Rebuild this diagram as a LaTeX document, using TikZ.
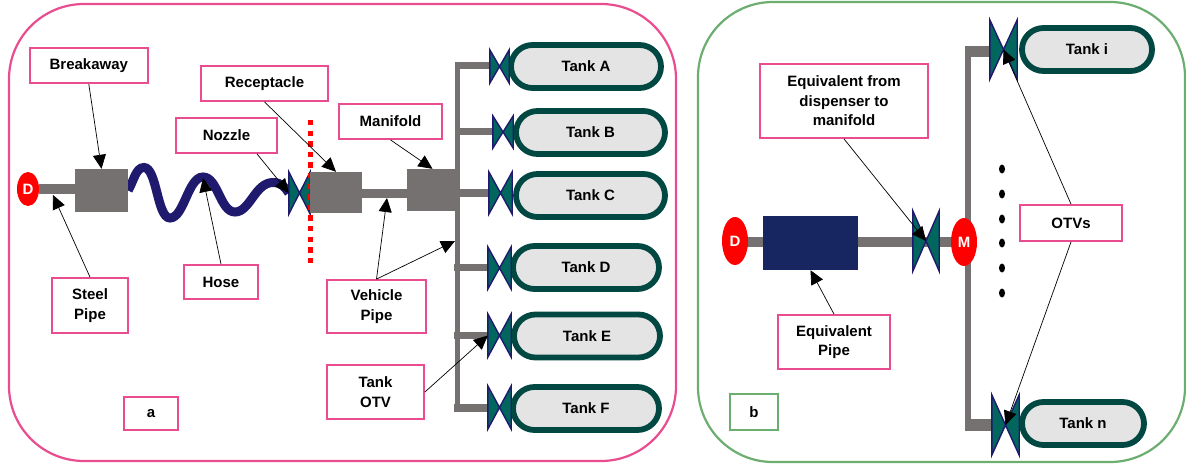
\documentclass[tikz,border=0pt]{standalone}
\usepackage{color}
\usepackage{fontspec}
\setmainfont{Liberation Sans}
\usetikzlibrary{arrows.meta,backgrounds,shapes.geometric,shapes.misc}
\definecolor{panelpink}{RGB}{233,76,143}
\definecolor{panelgreen}{RGB}{108,174,112}
\definecolor{pipegray}{RGB}{118,113,113}
\definecolor{hosenavy}{RGB}{31,26,110}
\definecolor{eqnavy}{RGB}{23,37,96}
\definecolor{valveteal}{RGB}{0,102,94}
\definecolor{tankdark}{RGB}{2,72,66}
\definecolor{tankfill}{RGB}{228,228,228}
\begin{document}
\begin{tikzpicture}[x=1pt,y=1pt,
        panel/.style={draw,line width=2.2pt,rounded corners=75pt},
        lblbox/.style={draw=panelpink,fill=white,line width=1.8pt,align=center,font=\fontsize{15}{19.5}\selectfont\bfseries},
        tank/.style={rounded rectangle,draw=tankdark,fill=tankfill,line width=5.8pt,minimum height=43pt,font=\fontsize{15}{19.5}\selectfont\bfseries},
        valve/.style={rectangle},
        bowtie/.style={draw=hosenavy,fill=valveteal,line width=1.4pt,line join=miter},
        graybox/.style={rectangle,fill=pipegray},
        pipe/.style={draw=pipegray},
        redcap/.style={ellipse,fill=red,text=white,font=\fontsize{15}{19.5}\selectfont\bfseries},
        pointer/.style={-{Triangle[length=14pt,width=13pt]},black,line width=0.7pt},
        dotmark/.style={ellipse,fill=black,minimum width=6pt,minimum height=9pt}]
        \tikzstyle{every node}+=[inner sep=0pt]
        \useasboundingbox (0,0) rectangle (1186,-466);

        \node [panel,draw=panelpink,minimum width=667pt,minimum height=457pt] (panela) at (342.5,-232.5) {};
        \node [panel,draw=panelgreen,minimum width=487pt,minimum height=460pt] (panelb) at (941.5,-232) {};

        \node [redcap,minimum width=22pt,minimum height=34pt] (dispa) at (28,-189) {D};
        \node [graybox,minimum width=53pt,minimum height=43pt] (breakawaybox) at (101.5,-190.5) {};
        \node [valve,minimum width=21pt,minimum height=42pt] (nozzlevalve) at (299.5,-193) {};
        \draw [bowtie] (nozzlevalve.north west) -- (nozzlevalve.south east) -- (nozzlevalve.north east) -- (nozzlevalve.south west) -- cycle;
        \coordinate (cuttop) at (310.5,-120);
        \coordinate (cutbot) at (310.5,-268);
        \draw [red,line width=5pt,dash pattern=on 5.4pt off 5.2pt] (cuttop) -- (cutbot);
        \node [graybox,minimum width=52pt,minimum height=41pt] (receptaclebox) at (336,-192.5) {};
        \node [graybox,minimum width=51pt,minimum height=42pt] (manifoldbox) at (432.5,-190) {};

        \node [tank,minimum width=150pt] (tanka) at (586,-66.5) {Tank A};
        \node [tank,minimum width=149pt] (tankb) at (590.5,-132.5) {Tank B};
        \node [tank,minimum width=149pt] (tankc) at (590.5,-195.5) {Tank C};
        \node [tank,minimum width=146pt] (tankd) at (586,-267.5) {Tank D};
        \node [tank,minimum width=146pt] (tanke) at (587,-336) {Tank E};
        \node [tank,minimum width=146pt] (tankf) at (586,-408.5) {Tank F};

        \node [valve,minimum width=19pt,minimum height=33pt] (valvea) at (499.5,-66.5) {};
        \draw [bowtie] (valvea.north west) -- (valvea.south east) -- (valvea.north east) -- (valvea.south west) -- cycle;
        \node [valve,minimum width=20pt,minimum height=32pt] (valveb) at (503,-132) {};
        \draw [bowtie] (valveb.north west) -- (valveb.south east) -- (valveb.north east) -- (valveb.south west) -- cycle;
        \node [valve,minimum width=23pt,minimum height=42pt] (valvec) at (500.5,-193) {};
        \draw [bowtie] (valvec.north west) -- (valvec.south east) -- (valvec.north east) -- (valvec.south west) -- cycle;
        \node [valve,minimum width=23pt,minimum height=42pt] (valved) at (499.5,-268) {};
        \draw [bowtie] (valved.north west) -- (valved.south east) -- (valved.north east) -- (valved.south west) -- cycle;
        \node [valve,minimum width=23pt,minimum height=43pt] (valvee) at (499.5,-335.5) {};
        \draw [bowtie] (valvee.north west) -- (valvee.south east) -- (valvee.north east) -- (valvee.south west) -- cycle;
        \node [valve,minimum width=23pt,minimum height=43pt] (valvef) at (499.5,-407.5) {};
        \draw [bowtie] (valvef.north west) -- (valvef.south east) -- (valvef.north east) -- (valvef.south west) -- cycle;

        \coordinate (busa) at (457.5,-65.5);
        \coordinate (busb) at (457.5,-131.5);
        \coordinate (busc) at (457.5,-193);
        \coordinate (busd) at (454,-267.5);
        \coordinate (buse) at (454,-335.5);
        \coordinate (busf) at (454,-408);
        \coordinate (bustop) at (457.5,-62);
        \coordinate (busbot) at (457.5,-412);

        \begin{scope}[on background layer]
        \draw [pipe,line width=10pt] (dispa) -- (dispa -| breakawaybox.west);
        \draw [pipe,line width=9pt] (receptaclebox.east |- 0,-193) -- (manifoldbox.west |- 0,-193);
        \draw [pipe,line width=5.5pt] (bustop) -- (busbot);
        \draw [pipe,line width=7pt] (busa) -- (valvea.west |- busa);
        \draw [pipe,line width=7pt] (busb) -- (valveb.west |- busb);
        \draw [pipe,line width=8pt] (busc) -- (valvec.west |- busc);
        \draw [pipe,line width=7pt] (busd) -- (valved.west |- busd);
        \draw [pipe,line width=7pt] (buse) -- (valvee.west |- buse);
        \draw [pipe,line width=8pt] (busf) -- (valvef.west |- busf);
        \draw [hosenavy,line width=9pt] (breakawaybox.east) .. controls (134,-180) and (136,-167.5) .. (144,-167.5) .. controls (157,-167.5) and (157,-218) .. (170,-218) .. controls (184,-218) and (188,-177) .. (203,-177) .. controls (218,-177) and (220,-212) .. (235,-212) .. controls (250,-212) and (255,-182.5) .. (273,-182.5) .. controls (281,-182.5) and (285,-187) .. (nozzlevalve.west);
        \end{scope}

        \node [redcap,minimum width=26pt,minimum height=48pt] (dispb) at (735,-241) {D};
        \node [rectangle,fill=eqnavy,minimum width=95pt,minimum height=54pt] (eqbox) at (810.5,-243) {};
        \node [valve,minimum width=26pt,minimum height=60pt] (eqvalve) at (926,-241) {};
        \draw [bowtie] (eqvalve.north west) -- (eqvalve.south east) -- (eqvalve.north east) -- (eqvalve.south west) -- cycle;
        \node [redcap,minimum width=26pt,minimum height=48pt] (manib) at (964,-242) {M};
        \node [tank,minimum width=130pt] (tanki) at (1087,-49.5) {Tank i};
        \node [tank,minimum width=122pt] (tankn) at (1083,-423.5) {Tank n};
        \node [valve,minimum width=27pt,minimum height=59pt] (valvei) at (1003.5,-49.5) {};
        \draw [bowtie] (valvei.north west) -- (valvei.south east) -- (valvei.north east) -- (valvei.south west) -- cycle;
        \node [valve,minimum width=27pt,minimum height=60pt] (valven) at (1005.5,-425) {};
        \draw [bowtie] (valven.north west) -- (valven.south east) -- (valven.north east) -- (valven.south west) -- cycle;

        \coordinate (riserb) at (967.5,-51);
        \coordinate (dropb) at (967.5,-425);

        \begin{scope}[on background layer]
        \draw [pipe,line width=10pt] (dispb.center |- 0,-242) -- (manib.center);
        \draw [pipe,line width=6pt] (manib.center |- 0,-242) ++(3.5,0) -- (riserb);
        \draw [pipe,line width=6pt] (manib.center |- 0,-242) ++(3.5,0) -- (dropb);
        \draw [pipe,line width=11pt] (965,-51) -- (valvei.west |- riserb);
        \draw [pipe,line width=12pt] (965,-425) -- (valven.west |- dropb);
        \end{scope}

        \foreach \dotname/\doty in {dota/169,dotb/194,dotc/219,dotd/243,dote/268,dotf/293}
        {
                \node [dotmark] (\dotname) at (1002,-\doty) {};
        }

        \node [lblbox,minimum width=118pt,minimum height=35pt] (breakawaylbl) at (88.8,-65.7) {Breakaway};
        \node [lblbox,minimum width=127pt,minimum height=35pt] (receptaclelbl) at (264.5,-83.5) {Receptacle};
        \node [lblbox,minimum width=101pt,minimum height=35pt] (nozzlelbl) at (226.5,-135.5) {Nozzle};
        \node [lblbox,minimum width=103pt,minimum height=35pt] (manifoldlbl) at (390.5,-121.5) {Manifold};
        \node [lblbox,minimum width=74pt,minimum height=34pt] (hoselbl) at (221,-282) {Hose};
        \node [lblbox,minimum width=76pt,minimum height=55pt] (steellbl) at (90,-305.5) {Steel\\Pipe};
        \node [lblbox,minimum width=99pt,minimum height=53pt] (vehiclelbl) at (376.5,-306.5) {Vehicle\\Pipe};
        \node [lblbox,minimum width=97pt,minimum height=54pt] (otvlbl) at (375.5,-392) {Tank\\OTV};
        \node [lblbox,minimum width=54pt,minimum height=33pt] (taga) at (151,-413.5) {a};
        \node [lblbox,minimum width=168pt,minimum height=74pt] (eqfromlbl) at (844,-101) {Equivalent from\\dispenser to\\manifold};
        \node [lblbox,minimum width=102pt,minimum height=36pt] (otvslbl) at (1071,-223) {OTVs};
        \node [lblbox,minimum width=112pt,minimum height=54pt] (eqpipelbl) at (834,-342) {Equivalent\\Pipe};
        \node [lblbox,draw=panelgreen,minimum width=48pt,minimum height=36pt] (tagb) at (754,-412) {b};

        \coordinate (steelend) at (53,-195);
        \coordinate (hoseend) at (203,-178);
        \coordinate (vehicleenda) at (387,-198);
        \coordinate (vehicleendb) at (455,-241);

        \draw [pointer] (breakawaylbl.south) -- (breakawaybox.north);
        \draw [pointer] (steellbl.north) -- (steelend);
        \draw [pointer] (hoselbl.north) -- (hoseend);
        \draw [pointer] (nozzlelbl.south) ++(30.5,0) -- (nozzlevalve.west);
        \draw [pointer] (receptaclelbl.south) -- (receptaclebox.north);
        \draw [pointer] (manifoldlbl.south) -- (manifoldbox.north);
        \draw [pointer] (vehiclelbl.north) -- (vehicleenda);
        \draw [pointer] (vehiclelbl.north) -- (vehicleendb);
        \draw [pointer] (otvlbl.east) -- (valvee.west);
        \draw [pointer] (eqfromlbl.south) -- (eqvalve.center);
        \draw [pointer] (eqpipelbl.north) -- (eqbox.south);
        \draw [pointer] (otvslbl.north) -- (valvei.center);
        \draw [pointer] (otvslbl.south) -- (valven.center);
\end{tikzpicture}
\end{document}
